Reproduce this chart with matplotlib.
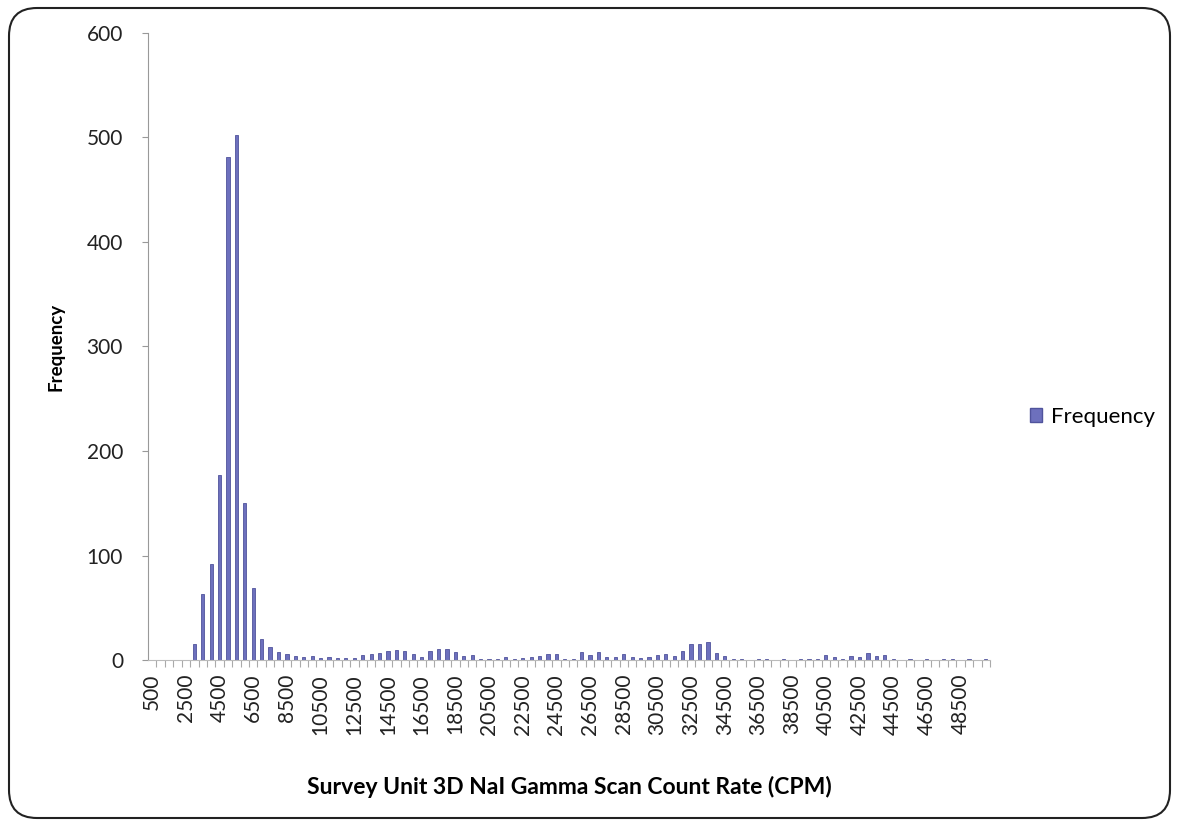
import matplotlib
matplotlib.use("Agg")
import matplotlib.pyplot as plt
from matplotlib.patches import FancyBboxPatch, Patch
from matplotlib.transforms import IdentityTransform

plt.rcParams['font.family'] = ['Lato', 'DejaVu Sans']

bins = [500 * (i + 1) for i in range(100)]
frequency = [
    0, 0, 0, 0, 0, 15, 63, 92, 177, 481,
    502, 150, 69, 20, 12, 8, 6, 4, 3, 4,
    2, 3, 2, 2, 2, 5, 6, 7, 9, 10,
    9, 6, 3, 9, 11, 11, 8, 4, 5, 1,
    1, 1, 3, 1, 2, 3, 4, 6, 6, 1,
    1, 8, 5, 8, 3, 3, 6, 3, 2, 3,
    5, 6, 4, 9, 15, 15, 17, 7, 4, 1,
    1, 0, 1, 1, 0, 1, 0, 1, 1, 1,
    5, 3, 1, 4, 3, 7, 4, 5, 1, 0,
    1, 0, 1, 0, 1, 1, 0, 1, 0, 1,
]
tick_labels = [str(b) for b in bins]
y_ticks = [0, 100, 200, 300, 400, 500, 600]

W, H = 1179, 825
fig = plt.figure(figsize=(W / 100, H / 100), dpi=100)
ax = fig.add_axes([148 / W, 1 - 660 / H, (990 - 148) / W, (660 - 33) / H])

x = list(range(len(bins)))
ax.bar(x, frequency, width=0.38, color='#6d70bd', edgecolor='#50539c', linewidth=0.6)

ax.set_xlim(-0.5, len(bins) - 0.5)
ax.set_ylim(0, 600)
ax.set_yticks(y_ticks)
ax.set_yticklabels([str(v) for v in y_ticks], fontsize=15, color='#222222')
ax.set_xticks(x[::4])
ax.set_xticklabels(tick_labels[::4], rotation=90, fontsize=15, color='#222222')
ax.set_xticks([i + 0.5 for i in x], minor=True)
ax.tick_params(axis='x', which='major', length=0, pad=10)
ax.tick_params(axis='x', which='minor', length=5, color='#aaaaaa', width=0.8, direction='out')
ax.tick_params(axis='y', which='major', length=4, color='#999999', width=0.8, pad=14)

for s in ['top', 'right']:
    ax.spines[s].set_visible(False)
ax.spines['left'].set_color('#999999')
ax.spines['bottom'].set_color('#bbbbbb')

ax.set_ylabel('Frequency', fontsize=13.5, fontweight='bold', labelpad=16)
ax.set_xlabel('Survey Unit 3D NaI Gamma Scan Count Rate (CPM)', fontsize=16.5,
              fontweight='bold', labelpad=30)

handle = Patch(facecolor='#6d70bd', edgecolor='#50539c')
fig.legend([handle], ['Frequency'], loc='center left',
           bbox_to_anchor=(1010 / W, 1 - 417 / H), frameon=False, fontsize=16,
           handlelength=0.55, handleheight=0.55, handletextpad=0.4)

border = FancyBboxPatch((9, 7), W - 18, H - 15, boxstyle='round,pad=0,rounding_size=28',
                        transform=IdentityTransform(), fill=False, edgecolor='#222222',
                        linewidth=1.5)
fig.patches.append(border)

fig.savefig('out.png', dpi=100)
